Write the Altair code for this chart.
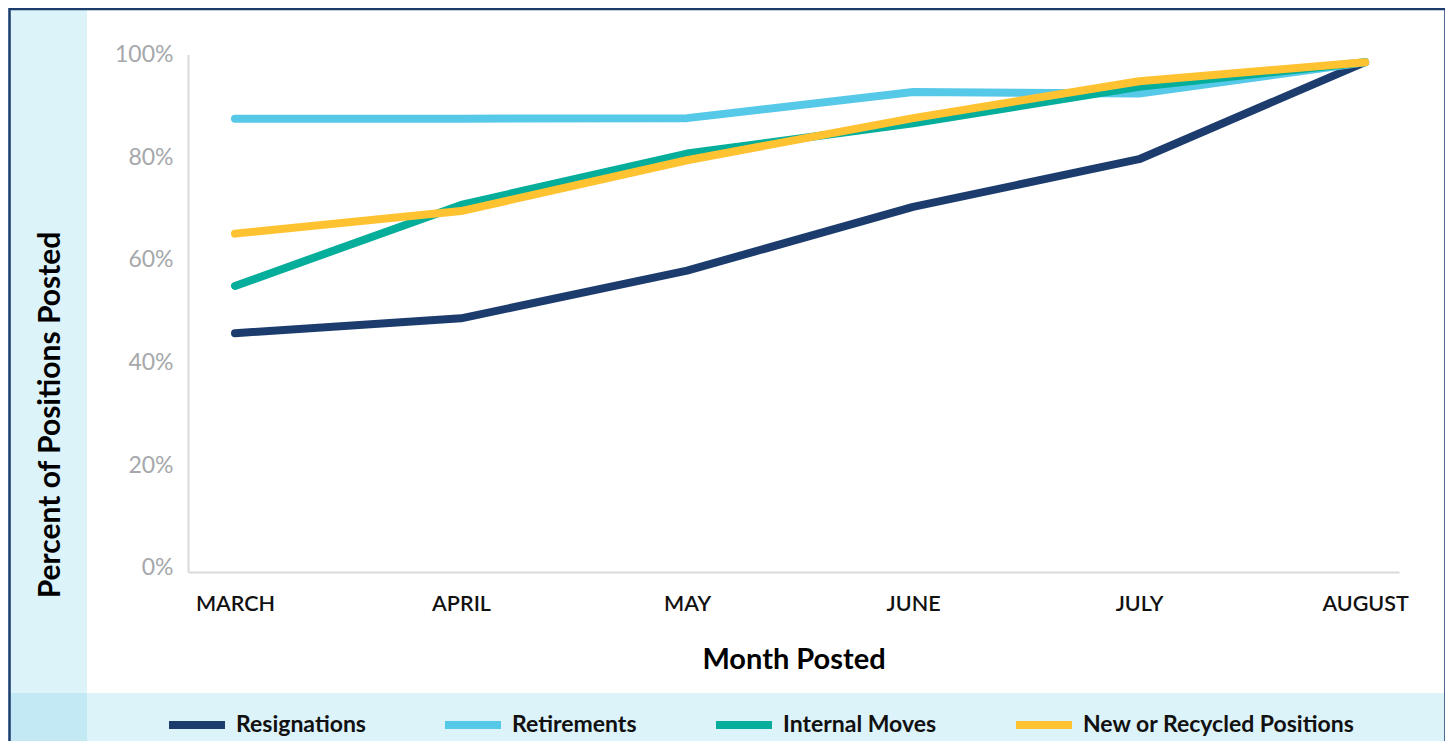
import altair as alt
import pandas as pd

months = ["MARCH", "APRIL", "MAY", "JUNE", "JULY", "AUGUST"]
series_names = ["Resignations", "Retirements", "Internal Moves", "New or Recycled Positions"]
resignations = [0.457, 0.486, 0.579, 0.703, 0.796, 0.985]
retirements = [0.875, 0.875, 0.876, 0.927, 0.924, 0.985]
internal_moves = [0.549, 0.707, 0.807, 0.866, 0.937, 0.985]
new_recycled = [0.651, 0.695, 0.794, 0.876, 0.948, 0.985]
colors = ["#1d3c6e", "#56c8e8", "#04ae9a", "#ffc230"]
y_ticks = [0, 0.2, 0.4, 0.6, 0.8, 1.0]

rows = []
for name, vals in zip(series_names, [resignations, retirements, internal_moves, new_recycled]):
    for i, (m, v) in enumerate(zip(months, vals)):
        rows.append({"month": m, "idx": i, "series": name, "value": v})
df = pd.DataFrame(rows)

FONT = "Lato"
W, H = 1211, 517.5
one = alt.Data(values=[{}])

white_panel = alt.Chart(one).mark_rect(color="white").encode(
    x=alt.value(-101), x2=alt.value(1257), y=alt.value(-47.5), y2=alt.value(638.5)
)
corner = alt.Chart(one).mark_rect(color="#c3e9f4").encode(
    x=alt.value(-178), x2=alt.value(-101), y=alt.value(638.5), y2=alt.value(700)
)
border = alt.Chart(one).mark_rect(fill=None, stroke="#1d3c6e", strokeWidth=2.5).encode(
    x=alt.value(-178.5), x2=alt.value(1257.5), y=alt.value(-45.5), y2=alt.value(720)
)

month_js = "[" + ",".join(f"'{m}'" for m in months) + "]"

lines = alt.Chart(df).mark_line(strokeWidth=8, strokeCap="round", strokeJoin="round").encode(
    x=alt.X("idx:Q",
            scale=alt.Scale(domain=[-0.208, 5.15], nice=False, zero=False),
            axis=alt.Axis(title="Month Posted", values=list(range(len(months))),
                          labelExpr=f"{month_js}[datum.value]",
                          labelAngle=0, ticks=False, tickSize=0, grid=False,
                          labelPadding=32, labelBaseline="middle",
                          labelFont=FONT, labelFontSize=21.5, labelColor="#111111",
                          labelFontWeight=600,
                          titleFont=FONT, titleFontSize=29, titleFontWeight="bold",
                          titleColor="#000000", titleY=87, titleBaseline="middle",
                          domainColor="#d9d9d9", domainWidth=2, zindex=1)),
    y=alt.Y("value:Q",
            scale=alt.Scale(domain=[-0.0082, 1.0], nice=False, zero=False),
            axis=alt.Axis(title="Percent of Positions Posted", values=y_ticks, format=".0%",
                          ticks=False, tickSize=0, grid=False, labelPadding=15,
                          labelFont=FONT, labelFontSize=23, labelColor="#a6a8ab",
                          titleFont=FONT, titleFontSize=30, titleFontWeight="bold",
                          titleColor="#000000", titleX=-138, titleY=360,
                          titleAngle=270, titleBaseline="middle", titleAlign="center",
                          domainColor="#d9d9d9", domainWidth=2, zindex=1)),
    color=alt.Color("series:N", sort=series_names,
                    scale=alt.Scale(domain=series_names, range=colors),
                    legend=alt.Legend(title=None, orient="none", direction="horizontal",
                                      legendX=-23, legendY=638.5, padding=0,
                                      symbolType="stroke", symbolSize=3136,
                                      symbolStrokeWidth=8, labelOffset=7,
                                      columnPadding=63,
                                      labelFont=FONT, labelFontSize=23,
                                      labelFontWeight="bold", labelColor="#111111",
                                      labelLimit=400)),
)

chart = alt.layer(white_panel, corner, border, lines).properties(
    width=W, height=H,
    autosize=alt.AutoSizeParams(type="none"),
    padding={"left": 180, "top": 46.5, "right": 46, "bottom": 169},
    background="#dcf3fa",
).configure_view(stroke=None)

chart.save("out.html", embed_options={"renderer": "svg", "actions": False})
